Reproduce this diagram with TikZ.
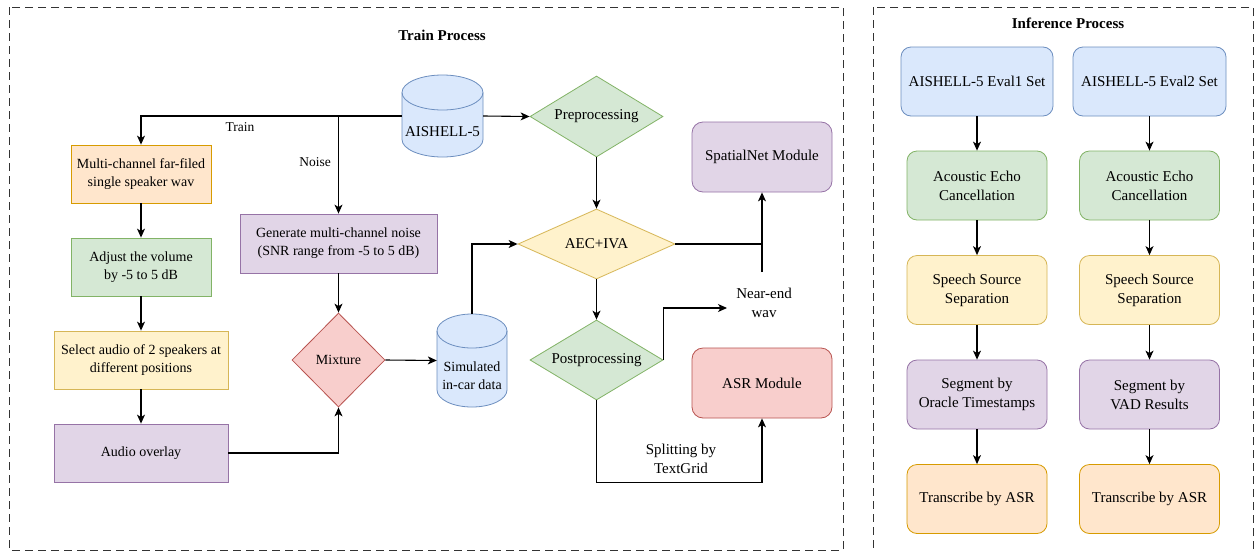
\documentclass[tikz,border=0pt]{standalone}
\usepackage{fontspec}
\setmainfont{Liberation Serif}
\usetikzlibrary{arrows.meta,shapes.geometric}
\definecolor{bluef}{HTML}{DAE8FC}\definecolor{blued}{HTML}{6C8EBF}
\definecolor{greenf}{HTML}{D5E8D4}\definecolor{greend}{HTML}{82B366}
\definecolor{orangef}{HTML}{FFE6CC}\definecolor{oranged}{HTML}{D79B00}
\definecolor{yellowf}{HTML}{FFF2CC}\definecolor{yellowd}{HTML}{D6B656}
\definecolor{purplef}{HTML}{E1D5E7}\definecolor{purpled}{HTML}{9673A6}
\definecolor{redf}{HTML}{F8CECC}\definecolor{redd}{HTML}{B85450}
\definecolor{framec}{HTML}{333333}
\newcommand\fA{\fontsize{14}{18}\selectfont}
\newcommand\fB{\fontsize{15}{19}\selectfont}
\newcommand\fL{\fontsize{13.5}{18}\selectfont}
\newcommand\mycyl[5]{% cx, top, bottom, half width, ry
  \fill[bluef] (#1-#4,#2+#5) -- (#1-#4,#3-#5) arc[start angle=180,end angle=360,x radius=#4pt,y radius=#5pt] -- (#1+#4,#2+#5) -- cycle;
  \fill[bluef] (#1,#2+#5) ellipse[x radius=#4pt,y radius=#5pt];
  \draw[blued,line width=0.8pt] (#1-#4,#2+#5) -- (#1-#4,#3-#5) arc[start angle=180,end angle=360,x radius=#4pt,y radius=#5pt] -- (#1+#4,#2+#5);
  \draw[blued,line width=0.8pt] (#1,#2+#5) ellipse[x radius=#4pt,y radius=#5pt];
}
\begin{document}
\begin{tikzpicture}[x=1pt,y=-1pt,
  box/.style={rectangle,draw,line width=0.8pt,align=center,inner sep=0pt,font=\fA},
  rbox/.style={box,rounded corners=11pt,font=\fB},
  ibox/.style={rectangle,draw,line width=0.8pt,align=center,inner sep=0pt,font=\fB,rounded corners=10pt,minimum width=140pt,minimum height=69pt},
  dia/.style={diamond,aspect=2,draw,line width=0.8pt,inner sep=0pt,font=\fB},
  ghost/.style={rectangle,inner sep=0pt},
  arr/.style={-{Stealth[length=9pt,width=8pt,inset=2.5pt]},line width=1.1pt},
  ln/.style={line width=1.1pt},
  lab/.style={align=center,font=\fL,inner sep=0pt},
  frame/.style={draw=framec,line width=1pt,dash pattern=on 8pt off 5pt}
]
\useasboundingbox (0,0) rectangle (1256,552);
\fill[white] (0,0) rectangle (1256,552);

% frames
\draw[frame] (9,7) rectangle (843,550);
\draw[frame] (873,7) rectangle (1253,556);
\node[font=\bfseries\fontsize{15}{18}\selectfont,inner sep=0pt] (tt) at (442,35) {Train Process};
\node[font=\bfseries\fontsize{15}{18}\selectfont,inner sep=0pt] (it) at (1068,23) {Inference Process};

% cylinders
\mycyl{442.5}{75}{157}{40.5}{17.5}
\node[ghost,minimum width=81pt,minimum height=82pt] (ai) at (442.5,116) {};
\node[font=\fB,inner sep=0pt] (ait) at (442.5,132) {AISHELL-5};
\mycyl{472}{314}{407}{35}{17}
\node[ghost,minimum width=70pt,minimum height=93pt] (sim) at (472,360.5) {};
\node[font=\fA,align=center,inner sep=0pt] (simt) at (472,376) {Simulated\\in-car data};

% left column
\node[box,fill=orangef,draw=oranged,minimum width=140pt,minimum height=58pt] (mc) at (141,174) {Multi-channel far-filed\\single speaker wav};
\node[box,fill=greenf,draw=greend,minimum width=140pt,minimum height=58pt] (adj) at (141,267) {Adjust the volume\\by -5 to 5 dB};
\node[box,fill=yellowf,draw=yellowd,minimum width=174pt,minimum height=58pt] (sel) at (141,360) {Select audio of 2 speakers at\\different positions};
\node[box,fill=purplef,draw=purpled,minimum width=174pt,minimum height=58pt] (ao) at (141,453) {Audio overlay};
\node[box,fill=purplef,draw=purpled,minimum width=197pt,minimum height=59pt] (gn) at (338.5,243.5) {Generate multi-channel noise\\(SNR range from -5 to 5 dB)};
\node[dia,fill=redf,draw=redd,font=\fA,minimum width=93pt,minimum height=94pt] (mix) at (338.5,360) {Mixture};

% middle
\node[dia,fill=greenf,draw=greend,minimum width=133pt,minimum height=81pt] (pre) at (596.5,116.5) {Preprocessing};
\node[dia,fill=yellowf,draw=yellowd,minimum width=157pt,minimum height=70pt] (aec) at (596.5,244) {AEC+IVA};
\node[dia,fill=greenf,draw=greend,minimum width=133pt,minimum height=80pt] (post) at (596.5,360) {Postprocessing};
\node[rbox,fill=purplef,draw=purpled,minimum width=140pt,minimum height=70pt] (sn) at (762,157) {SpatialNet Module};
\node[rbox,fill=redf,draw=redd,minimum width=140pt,minimum height=70pt] (asr) at (762,383) {ASR Module};

% labels
\node[lab] (ltrain) at (240,127) {Train};
\node[lab] (lnoise) at (315,162) {Noise};
\node[lab,font=\fB] (lne) at (764,303) {Near-end\\wav};
\node[lab,font=\fB] (lsplit) at (681,459) {Splitting by\\TextGrid};
\coordinate (nej) at (762,272);
\coordinate (nea) at (727,308);

% connectors (train)
\draw[arr] (ai.west) -| (mc.north);
\draw[arr] (ai.west -| gn.north) -- (gn.north);
\draw[arr] (ai.east) -- (pre.west);
\draw[arr] (mc.south) -- (adj.north);
\draw[arr] (adj.south) -- (sel.north);
\draw[arr] (sel.south) -- (ao.north);
\draw[arr] (gn.south) -- (mix.north);
\draw[arr] (ao.east) -| (mix.south);
\draw[arr] (mix.east) -- (sim.west);
\draw[arr] (sim.north) |- (aec.west);
\draw[arr] (pre.south) -- (aec.north);
\draw[arr] (aec.east) -| (sn.south);
\draw[ln] (nej) -- (nej |- aec.east);
\draw[arr] (aec.south) -- (post.north);
\draw[arr] (post.east) |- (nea);
\draw[arr] (post.south) -- ++(0,82) -| (asr.south);

% inference
\node[ibox,fill=bluef,draw=blued,minimum width=152pt] (e1) at (977,81.5) {AISHELL-5 Eval1 Set};
\node[ibox,fill=greenf,draw=greend] (a1) at (977,185.5) {Acoustic Echo\\Cancellation};
\node[ibox,fill=yellowf,draw=yellowd] (s1) at (977,290) {Speech Source\\Separation};
\node[ibox,fill=purplef,draw=purpled] (g1) at (977,394.5) {Segment by\\Oracle Timestamps};
\node[ibox,fill=orangef,draw=oranged] (t1) at (977,499) {Transcribe by ASR};
\node[ibox,fill=bluef,draw=blued,minimum width=153pt] (e2) at (1149.5,81.5) {AISHELL-5 Eval2 Set};
\node[ibox,fill=greenf,draw=greend] (a2) at (1149.5,185.5) {Acoustic Echo\\Cancellation};
\node[ibox,fill=yellowf,draw=yellowd] (s2) at (1149.5,290) {Speech Source\\Separation};
\node[ibox,fill=purplef,draw=purpled] (g2) at (1149.5,394.5) {Segment by\\VAD Results};
\node[ibox,fill=orangef,draw=oranged] (t2) at (1149.5,499) {Transcribe by ASR};
\draw[arr] (e1.south) -- (a1.north);
\draw[arr] (a1.south) -- (s1.north);
\draw[arr] (s1.south) -- (g1.north);
\draw[arr] (g1.south) -- (t1.north);
\draw[arr] (e2.south) -- (a2.north);
\draw[arr] (a2.south) -- (s2.north);
\draw[arr] (s2.south) -- (g2.north);
\draw[arr] (g2.south) -- (t2.north);
\end{tikzpicture}
\end{document}
